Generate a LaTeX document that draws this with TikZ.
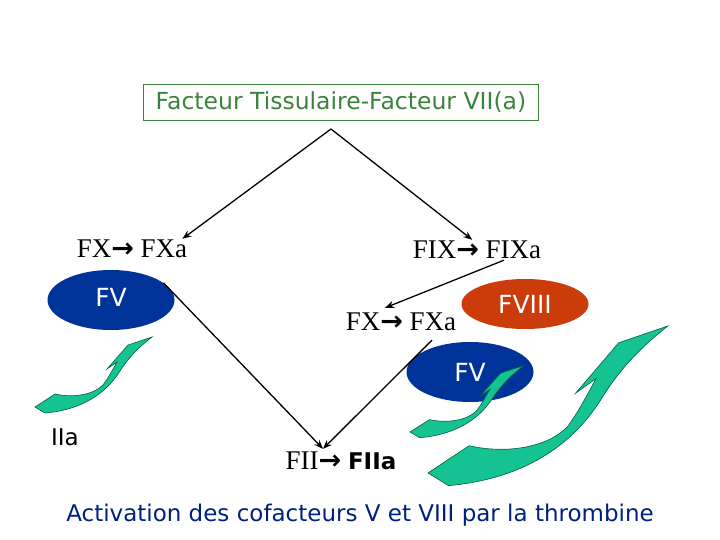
\documentclass[tikz,border=0pt]{standalone}
\usepackage{fontspec}
\setmainfont{Liberation Serif}
\newfontfamily\comicfont{DejaVu Sans}
\usetikzlibrary{arrows.meta,shapes.geometric}
\definecolor{boxgreen}{RGB}{60,130,60}
\definecolor{fvblue}{RGB}{0,51,153}
\definecolor{fviiired}{RGB}{204,60,10}
\definecolor{ribbongreen}{RGB}{20,195,145}
\definecolor{ribbonedge}{RGB}{0,95,65}
\definecolor{captionblue}{RGB}{0,32,128}
\newcommand{\actto}{{\comicfont\bfseries\fontsize{27}{27}\selectfont →}}
\newcommand{\ribbonarrow}[3]{%
  \draw[ribbon, shift={#1}, xscale=#2, yscale=#3]
    (0,0) -- (20,-13) .. controls (38,-9) and (58,-12) .. (68,-22)
    .. controls (74,-30) and (78,-38) .. (82,-45) -- (72,-38) -- (93,-62) -- (117,-70)
    .. controls (104,-60) and (94,-50) .. (85,-36)
    .. controls (70,-12) and (45,3) .. (10,6) -- cycle;}
\begin{document}
\begin{tikzpicture}
          [x=1pt,y=-1pt,
          tfbox/.style={draw=boxgreen,text=boxgreen,line width=0.8pt,minimum width=395pt,minimum height=36pt,inner sep=2pt,font=\comicfont\fontsize{23.5}{23.5}\selectfont},
          reaction/.style={inner sep=1pt,font=\fontsize{27}{27}\selectfont},
          cofactor/.style={shape=ellipse,minimum width=127pt,minimum height=60pt,inner sep=0pt,text=white,font=\comicfont\fontsize{25}{25}\selectfont},
          link/.style={-{Stealth[length=9pt,width=7pt]},line width=1.3pt},
          ribbon/.style={fill=ribbongreen,draw=ribbonedge,line width=0.6pt}]

            \useasboundingbox (0,0) rectangle (720,540);
            \node (tf) [tfbox] at (341,102) {Facteur Tissulaire-Facteur VII(a)};
            \coordinate (apex) at (331,129);
            \node (fx1) [reaction] at (132,249) {FX\actto{} FXa};
            \node (fix) [reaction] at (477,250) {FIX\actto{} FIXa};
            \node (fx2) [reaction] at (401,322) {FX\actto{} FXa};
            \node (fii) [reaction] at (341,461) {FII\actto{} {\comicfont\bfseries\fontsize{23}{23}\selectfont FIIa}};
            \node (fv1) [cofactor, fill=fvblue] at (111,300) {\raisebox{5pt}{FV}};
            \node (fviii) [cofactor, fill=fviiired, minimum height=50pt] at (525,304) {FVIII};
            \node (fv2) [cofactor, fill=fvblue] at (470,372) {FV};
            \node (iia) [font=\comicfont\fontsize{23}{23}\selectfont] at (65,437) {IIa};
            \node (caption) [text=captionblue, font=\comicfont\fontsize{23}{23}\selectfont] at (360,515) {Activation des cofacteurs V et VIII par la thrombine};

          \draw [link] (apex) -- ([xshift=-6pt]fx1.north east);
          \draw [link] (apex) -- (fix.115);
          \draw [link] ([xshift=27pt]fix.south) -- ([xshift=-16pt,yshift=4pt]fx2.north);
          \draw [link] (fv1.18) -- ([xshift=-18pt,yshift=2pt]fii.north);
          \draw [link] ([xshift=31pt,yshift=-8pt]fx2.south) -- ([xshift=-18pt,yshift=2pt]fii.north);

          \ribbonarrow{(35,407)}{1}{1}
          \ribbonarrow{(410,432)}{0.975}{0.95}
          \ribbonarrow{(428,473)}{2.05}{2.1}

        \end{tikzpicture}
\end{document}
